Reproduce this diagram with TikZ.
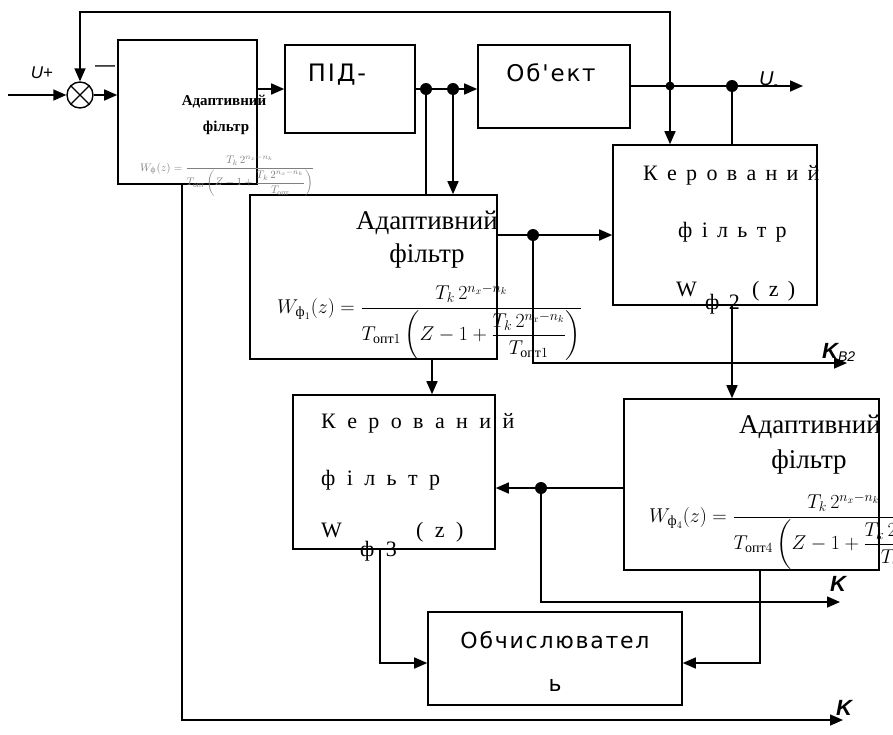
\RequirePackage{fix-cm}
\documentclass[tikz,border=0pt]{standalone}
\usepackage{amsmath}
\usepackage{fontspec}
\setmainfont{Liberation Serif}
\setsansfont{DejaVu Sans}
\newfontfamily\lsans{Liberation Sans}
\newfontfamily\spsans[LetterSpace=8]{DejaVu Sans}
\usetikzlibrary{arrows.meta,calc}
\newcommand{\wf}[2]{$\displaystyle W_{\text{ф}_{#1}}(z)=\frac{T_k\,2^{n_x-n_k}}{T_{\text{опт}#2}\left(Z-1+\dfrac{T_k\,2^{n_x-n_k}}{T_{\text{опт}#2}}\right)}$}
\newcommand{\kspaced}[2]{\fontsize{#1}{#1}\selectfont\spaceskip=#2pt\relax}
\begin{document}
\begin{tikzpicture}[x=1pt,y=-1pt,
  box/.style={draw, line width=1.6pt, inner sep=0pt, rectangle},
  ln/.style={line width=1.6pt},
  arr/.style={line width=1.6pt, -{Triangle[length=13pt,width=11pt]}},
  dot/.style={circle, fill, inner sep=0pt, minimum size=12pt},
  txt/.style={inner sep=0pt}
  ]
\useasboundingbox (0,0) rectangle (893,734);
\fill[white] (0,0) rectangle (893,734);

% boxes
\node[box, minimum width=139pt, minimum height=144pt] (b1) at (187.5,112) {};
\node[box, minimum width=130pt, minimum height=88pt] (pid) at (350,89) {};
\node[box, minimum width=152pt, minimum height=83pt] (obj) at (554,86.5) {};
\node[box, minimum width=204pt, minimum height=160pt] (kf2) at (715,225) {};
\node[box, minimum width=247pt, minimum height=164pt] (af1) at (373.5,277) {};
\node[box, minimum width=202pt, minimum height=154pt] (kf3) at (394,472) {};
\node[box, minimum width=255pt, minimum height=171pt] (af4) at (751.5,484.5) {};
\node[box, minimum width=254pt, minimum height=93pt] (calc) at (555,658.5) {};

% summing junction
\node[draw, circle, line width=1.4pt, minimum size=26pt, inner sep=0pt] (sum) at (80,95) {};
\draw[line width=1.2pt] (sum.north west) -- (sum.south east) (sum.north east) -- (sum.south west);

% coordinates
\coordinate (in) at (8,95);
\coordinate (j1) at (426,89);
\coordinate (j2) at (453,89);
\coordinate (j3) at (670,86);
\coordinate (j4) at (732,86);
\coordinate (tr) at (670,12);
\coordinate (tl) at (80,12);
\coordinate (uout) at (803,86);
\coordinate (j5) at (533,235);
\coordinate (kb2) at (847,363);
\coordinate (x1) at (432,0);
\coordinate (j6) at (541,488);
\coordinate (k2) at (840,602);
\coordinate (cy) at (0,663);
\coordinate (x2) at (380,0);
\coordinate (x3) at (760,0);
\coordinate (x4) at (182,0);
\coordinate (k3) at (843,720);

% connectors
\draw[arr] (in) -- (sum.west);
\draw[arr] (sum.east) -- (sum.east -| b1.west);
\draw[arr] (j3) -- (tr) -- (tl) -- (sum.north);
\draw[arr] (b1.east |- pid.west) -- (pid.west);
\draw[arr] (pid.east) -- (pid.east -| obj.west);
\draw[ln] (j1) -- (j1 |- af1.north);
\draw[arr] (j2) -- (j2 |- af1.north);
\draw[arr] (obj.east |- j3) -- (uout);
\draw[arr] (j3) -- (j3 |- kf2.north);
\draw[ln] (j4) -- (j4 |- kf2.north);
\draw[arr] (j5 -| af1.east) -- (j5 -| kf2.west);
\draw[arr] (j5) |- (kb2);
\draw[arr] (j4 |- kf2.south) -- (j4 |- af4.north);
\draw[arr] (x1 |- af1.south) -- (x1 |- kf3.north);
\draw[arr] (j6 -| af4.west) -- (j6 -| kf3.east);
\draw[arr] (j6) |- (k2);
\draw[arr] (x2 |- kf3.south) |- (cy -| calc.west);
\draw[arr] (x3 |- af4.south) |- (cy -| calc.east);
\draw[arr] (x4 |- b1.south) |- (k3);

% junction dots
\node[dot] (d1) at (j1) {};
\node[dot] (d2) at (j2) {};
\node[dot, minimum size=9pt] (d3) at (j3) {};
\node[dot] (d4) at (j4) {};
\node[dot] (d5) at (j5) {};
\node[dot] (d6) at (j6) {};

% texts box 1
\node[txt, font=\bfseries\fontsize{15}{17}\selectfont] (t1a) at (224,102) {Адаптивний};
\node[txt, font=\bfseries\fontsize{15}{17}\selectfont] (t1b) at (226,128) {фільтр};
\node[txt, anchor=base west, font=\fontsize{11}{13}\selectfont, text=gray] (f1) at (140,171) {\wf{}{}};

% pid, object, calculator
\node[txt, font={\spsans\fontsize{24}{28}\selectfont}] (tpid) at (337,75) {ПІД-};
\node[txt, font={\spsans\fontsize{23}{26}\selectfont}] (tobj) at (551,73) {Об'ект};
\node[txt, font={\spsans\fontsize{22}{26}\selectfont}] (tc1) at (555,640) {Обчислювател};
\node[txt, font={\spsans\fontsize{22}{26}\selectfont}] (tc2) at (555,685) {ь};

% adaptive filter 1
\node[txt, font=\fontsize{27}{30}\selectfont] (ta1) at (427,223) {Адаптивний};
\node[txt, font=\fontsize{27}{30}\selectfont] (ta2) at (427,256) {фільтр};
\node[txt, anchor=base west, font=\fontsize{20}{24}\selectfont] (fa1) at (277,313) {\wf{1}{1}};

% adaptive filter 4
\node[txt, font=\fontsize{27}{30}\selectfont] (ta3) at (810,427) {Адаптивний};
\node[txt, font=\fontsize{27}{30}\selectfont] (ta4) at (809,462) {фільтр};
\node[txt, anchor=base west, font=\fontsize{20}{24}\selectfont] (fa4) at (649,522) {\wf{4}{4}};

% controlled filter 2
\node[txt, anchor=west, font=\kspaced{22}{9.3}] (tk1) at (643,175) {К е р о в а н и й};
\node[txt, anchor=west, font=\kspaced{22}{9.3}] (tk2) at (678,232) {ф і л ь т р};
\node[txt, anchor=base west, font=\kspaced{22}{9.3}] (tk3) at (676,296) {W};
\node[txt, anchor=base west, font=\kspaced{22}{9.3}] (tk4) at (705,309) {ф 2};
\node[txt, anchor=base west, font=\kspaced{22}{9.3}] (tk5) at (752,296) {( z )};

% controlled filter 3
\node[txt, anchor=west, font=\kspaced{22}{11.4}] (tk6) at (321,423) {К е р о в а н и й};
\node[txt, anchor=west, font=\kspaced{22}{11.4}] (tk7) at (321,480) {ф і л ь т р};
\node[txt, anchor=base west, font=\kspaced{22}{11.4}] (tk8) at (321,537) {W};
\node[txt, anchor=base west, font=\kspaced{22}{11.4}] (tk9) at (360,556) {ф 3};
\node[txt, anchor=base west, font=\kspaced{22}{11.4}] (tk10) at (416,537) {( z )};

% signal labels
\node[txt, font={\lsans\fontsize{17}{20}\selectfont}] (lu) at (42,73) {\itshape U\upshape+};
\node[txt, font={\lsans\fontsize{20}{20}\selectfont}] (lm) at (105,69) {—};
\node[txt, anchor=base west, font={\lsans\fontsize{20}{22}\selectfont}] (luo) at (759,85) {\itshape U\raisebox{-3pt}{\fontsize{12}{12}\selectfont -}};
\node[txt, anchor=base west, font={\lsans\fontsize{22}{24}\selectfont}] (lk1) at (822,358) {\bfseries\itshape K\mdseries\raisebox{-3pt}{\fontsize{14}{14}\selectfont B2}};
\node[txt, anchor=base west, font={\lsans\fontsize{22}{24}\selectfont}] (lk2) at (830,591) {\bfseries\itshape K};
\node[txt, anchor=base west, font={\lsans\fontsize{22}{24}\selectfont}] (lk3) at (836,715) {\bfseries\itshape K};
\end{tikzpicture}
\end{document}
